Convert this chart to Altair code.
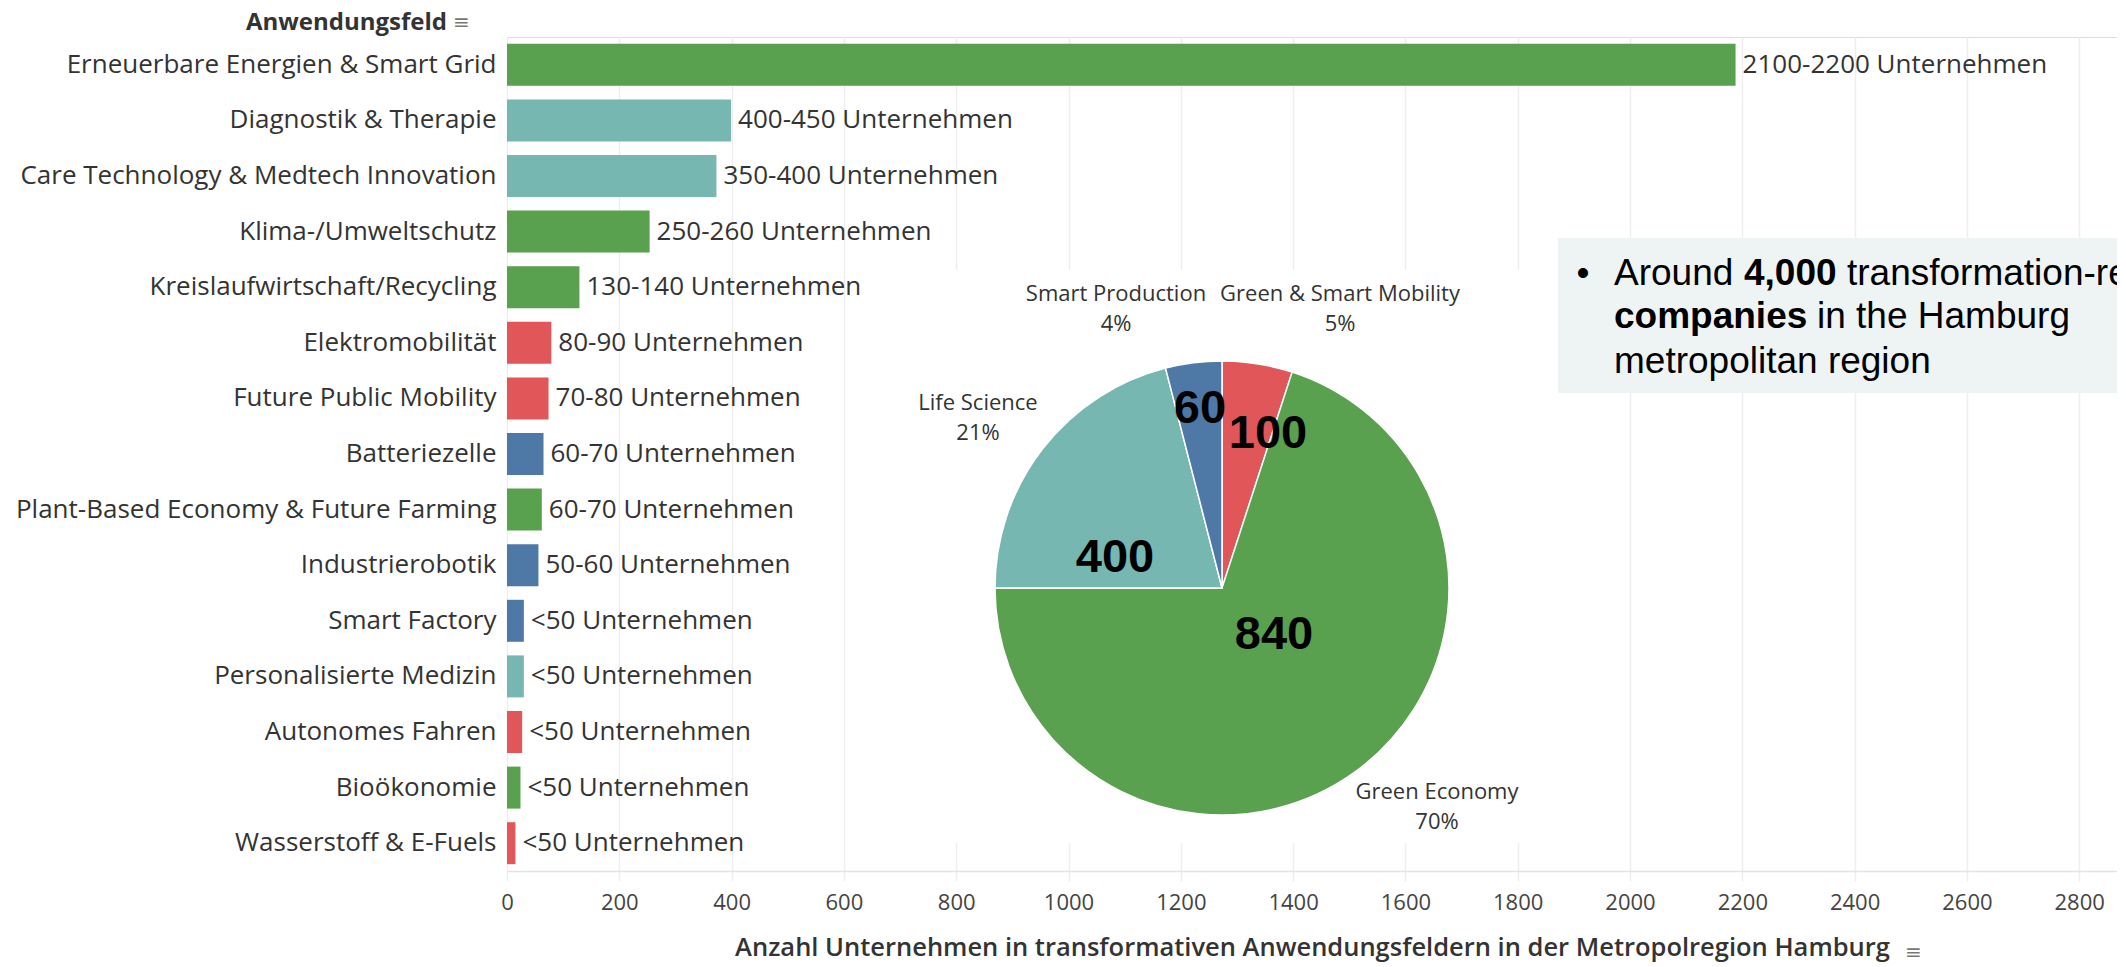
import altair as alt
import pandas as pd

# ---------------- data ----------------
categories = [
    "Erneuerbare Energien & Smart Grid",
    "Diagnostik & Therapie",
    "Care Technology & Medtech Innovation",
    "Klima-/Umweltschutz",
    "Kreislaufwirtschaft/Recycling",
    "Elektromobilität",
    "Future Public Mobility",
    "Batteriezelle",
    "Plant-Based Economy & Future Farming",
    "Industrierobotik",
    "Smart Factory",
    "Personalisierte Medizin",
    "Autonomes Fahren",
    "Bioökonomie",
    "Wasserstoff & E-Fuels",
]
values = [2188, 399, 373, 254, 129, 79, 74, 65, 62, 56, 30, 30, 27, 24, 15]
value_labels = [
    "2100-2200 Unternehmen",
    "400-450 Unternehmen",
    "350-400 Unternehmen",
    "250-260 Unternehmen",
    "130-140 Unternehmen",
    "80-90 Unternehmen",
    "70-80 Unternehmen",
    "60-70 Unternehmen",
    "60-70 Unternehmen",
    "50-60 Unternehmen",
    "<50 Unternehmen",
    "<50 Unternehmen",
    "<50 Unternehmen",
    "<50 Unternehmen",
    "<50 Unternehmen",
]
groups = [
    "Green Economy", "Life Science", "Life Science", "Green Economy",
    "Green Economy", "Green & Smart Mobility", "Green & Smart Mobility",
    "Smart Production", "Green Economy", "Smart Production",
    "Smart Production", "Life Science", "Green & Smart Mobility",
    "Green Economy", "Green & Smart Mobility",
]

pie_groups = ["Green & Smart Mobility", "Green Economy", "Life Science", "Smart Production"]
pie_share = [5, 70, 21, 4]
pie_counts = [100, 840, 400, 60]

x_ticks = [0, 200, 400, 600, 800, 1000, 1200, 1400, 1600, 1800, 2000, 2200, 2400, 2600, 2800]

color_domain = ["Green Economy", "Life Science", "Green & Smart Mobility", "Smart Production"]
color_range = ["#59A14F", "#76B7B2", "#E15759", "#4E79A7"]

# ---------------- layout ----------------
W, H = 1610, 834
PX_PER_UNIT = 0.5615
XMAX = W / PX_PER_UNIT
FONT = "Open Sans"
TXT = "#333333"

bars_df = pd.DataFrame({
    "Anwendungsfeld": categories,
    "Anzahl": values,
    "Label": value_labels,
    "Gruppe": groups,
})
pie_df = pd.DataFrame({
    "Gruppe": pie_groups,
    "Anteil": pie_share,
    "Anzahl": pie_counts,
    "idx": list(range(len(pie_groups))),
})
pie_df["Beschriftung"] = pie_df["Gruppe"] + "\n" + pie_df["Anteil"].astype(str) + "%"
pie_df["Zahl"] = pie_df["Anzahl"].astype(str)

color = alt.Color(
    "Gruppe:N",
    scale=alt.Scale(domain=color_domain, range=color_range),
    legend=None,
)

y_enc = alt.Y(
    "Anwendungsfeld:N",
    sort=categories,
    scale=alt.Scale(paddingInner=0.245, paddingOuter=0.1225),
    axis=alt.Axis(
        title=None, labelFont=FONT, labelFontSize=26, labelColor=TXT,
        labelPadding=11, ticks=False, domain=False, labelLimit=700,
    ),
)
x_enc = alt.X(
    "Anzahl:Q",
    scale=alt.Scale(domain=[0, XMAX], nice=False, zero=True),
    axis=alt.Axis(
        values=x_ticks, format="d",
        title="Anzahl Unternehmen in transformativen Anwendungsfeldern in der Metropolregion Hamburg",
        titleFont=FONT, titleFontSize=25.5, titleFontWeight=600, titleColor=TXT,
        titlePadding=22,
        labelFont=FONT, labelFontSize=22, labelColor="#444444", labelPadding=11,
        grid=True, gridColor="#eeeeee", gridWidth=1.5,
        domainColor="#e4e4e4", domainWidth=1.5,
        tickColor="#eeeeee", tickSize=10, tickWidth=1.5,
        labelFlush=False,
    ),
)

bars = alt.Chart(bars_df).mark_bar().encode(x=x_enc, y=y_enc, color=color)
bar_text = alt.Chart(bars_df).mark_text(
    align="left", baseline="middle", dx=7, font=FONT, fontSize=26, color=TXT
).encode(x="Anzahl:Q", y=alt.Y("Anwendungsfeld:N", sort=categories), text="Label:N")

one = pd.DataFrame({"k": [0]})

# white dashboard container behind the pie (hides grid lines)
container = alt.Chart(one).mark_rect(color="white").encode(
    x=alt.value(388), x2=alt.value(1051), y=alt.value(233), y2=alt.value(806)
)

PIE_X, PIE_Y, PIE_R = 715, 551, 227
pie = alt.Chart(pie_df).mark_arc(
    outerRadius=PIE_R, stroke="white", strokeWidth=1.5
).encode(
    theta=alt.Theta("Anteil:Q", stack=True),
    color=color,
    order=alt.Order("idx:Q"),
    x=alt.value(PIE_X), y=alt.value(PIE_Y),
)

# position of the first label line (plot coordinates)
label_pos = {
    "Smart Production": (609, 257),
    "Green & Smart Mobility": (833, 257),
    "Life Science": (471, 366),
    "Green Economy": (930, 755),
}
number_pos = {
    "Smart Production": (693, 372),
    "Green & Smart Mobility": (761, 397),
    "Life Science": (608, 521),
    "Green Economy": (767, 598),
}

pie_labels = []
for g, (px, py) in label_pos.items():
    pie_labels.append(
        alt.Chart(pie_df).transform_filter(alt.datum.Gruppe == g).mark_text(
            align="center", baseline="middle", lineBreak="\n", lineHeight=30,
            font=FONT, fontSize=22, color=TXT,
        ).encode(text="Beschriftung:N", x=alt.value(px), y=alt.value(py))
    )
pie_numbers = []
for g, (px, py) in number_pos.items():
    pie_numbers.append(
        alt.Chart(pie_df).transform_filter(alt.datum.Gruppe == g).mark_text(
            align="center", baseline="middle",
            font="Liberation Sans", fontSize=47, fontWeight="bold", color="black",
        ).encode(text="Zahl:N", x=alt.value(px), y=alt.value(py))
    )

# info box
box = alt.Chart(one).mark_rect(color="#eef4f4").encode(
    x=alt.value(1051), x2=alt.value(W), y=alt.value(201), y2=alt.value(356)
)


def box_text(txt, x, y, bold=False, align="left"):
    return alt.Chart(one).mark_text(
        align=align, baseline="alphabetic", font="Liberation Sans", fontSize=37,
        fontWeight="bold" if bold else "normal", color="black",
    ).encode(text=alt.value(txt), x=alt.value(x), y=alt.value(y))


box_texts = [
    box_text("•", 1076, 248, align="center"),
    box_text("Around", 1107, 248),
    box_text("4,000", 1237, 248, bold=True),
    box_text("transformation-relevant", 1340, 248),
    box_text("companies", 1107, 291, bold=True),
    box_text("in the Hamburg", 1310, 291),
    box_text("metropolitan region", 1107, 336),
]

header = alt.Chart(one).mark_text(
    align="right", baseline="alphabetic", font=FONT, fontSize=24, fontWeight="bold", color=TXT
).encode(text=alt.value("Anwendungsfeld"), x=alt.value(-60), y=alt.value(-7))
header_icon = alt.Chart(one).mark_text(
    align="left", baseline="middle", font="DejaVu Sans", fontSize=20, color="#777777"
).encode(text=alt.value("≡"), x=alt.value(-54), y=alt.value(-14))
xtitle_icon = alt.Chart(one).mark_text(
    align="left", baseline="middle", font="DejaVu Sans", fontSize=20, color="#777777"
).encode(text=alt.value("≡"), x=alt.value(1398), y=alt.value(916))

chart = alt.layer(
    bars, bar_text, container, pie, *pie_labels, *pie_numbers,
    box, *box_texts, header, header_icon, xtitle_icon,
).properties(
    width=W, height=H,
    autosize=alt.AutoSizeParams(type="none"),
    padding={"left": 499, "top": 29, "right": 0, "bottom": 100},
).configure_view(stroke=None).configure(font=FONT)

chart.save("out.html", embed_options={"renderer": "svg", "actions": False})
